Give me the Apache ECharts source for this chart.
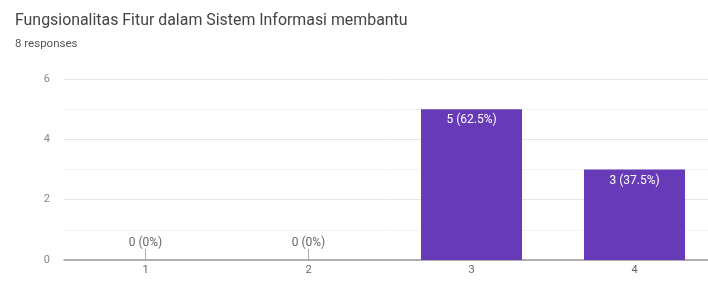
<!DOCTYPE html>
<html><head><meta charset="utf-8">
<script src="https://cdn.jsdelivr.net/npm/echarts@6/dist/echarts.min.js"></script>
<style>html,body{margin:0;padding:0;background:#fff}#c{width:708px;height:282px}</style>
</head><body><div id="c"></div>
<script>
const titleText = 'Fungsionalitas Fitur dalam Sistem Informasi membantu';
const subtitleText = '8 responses';
const categories = ['1', '2', '3', '4'];
const counts = [0, 0, 5, 3];
const yTicks = [0, 2, 4, 6];

const total = counts.reduce((a, b) => a + b, 0);
const seriesData = counts.map(v => {
  const pct = total ? Math.round(v / total * 1000) / 10 : 0;
  const txt = v + ' (' + pct + '%)';
  if (v === 0) {
    return { value: v, label: { show: true, position: 'top', distance: 11, color: '#666', formatter: txt } };
  }
  return { value: v, label: { show: true, position: 'insideTop', distance: 5, color: '#fff', formatter: txt } };
});

const chart = echarts.init(document.getElementById('c'));
chart.setOption({
  animation: false,
  title: [
    { text: titleText, left: 10, top: 8, textStyle: { fontFamily: 'Roboto, Arial, sans-serif', fontSize: 15.9, fontWeight: 'normal', color: '#444' } },
    { text: subtitleText, left: 10, top: 33, textStyle: { fontFamily: 'Roboto, Arial, sans-serif', fontSize: 11.5, fontWeight: 'normal', color: '#555' } }
  ],
  grid: { left: 64, right: -8, top: 79, bottom: 22, containLabel: false, outerBoundsMode: 'none' },
  xAxis: {
    type: 'category', data: categories,
    axisLine: { lineStyle: { color: '#999', width: 1.5 } },
    axisTick: { show: true, inside: true, alignWithLabel: true, length: 11, lineStyle: { color: '#aaa' } },
    axisLabel: { color: '#666', fontSize: 11, margin: 5, fontFamily: 'Roboto, Arial, sans-serif' }
  },
  yAxis: {
    type: 'value', min: yTicks[0], max: yTicks[yTicks.length - 1], interval: 2,
    axisLine: { show: false }, axisTick: { show: false },
    axisLabel: { color: '#888', fontSize: 11, margin: 14, fontFamily: 'Roboto, Arial, sans-serif' },
    splitLine: { lineStyle: { color: '#e6e6e6' } },
    minorTick: { show: false, splitNumber: 2 },
    minorSplitLine: { show: true, lineStyle: { color: '#f3f3f3' } }
  },
  series: [{
    type: 'bar', data: seriesData, barWidth: '62%',
    itemStyle: { color: '#673ab7' },
    label: { fontSize: 12, fontFamily: 'Roboto, Arial, sans-serif' }
  }]
});
</script></body></html>
